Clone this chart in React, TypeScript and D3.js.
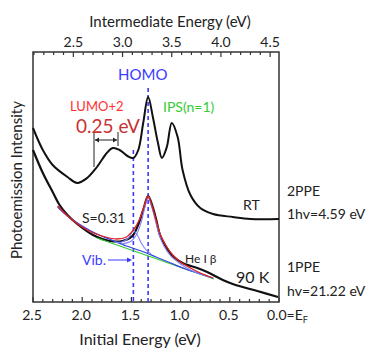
import React, { useEffect, useRef } from "react";
import * as d3 from "d3";

// photon energy of the 2PPE pump, links bottom and top axes
const PUMP = 4.59;

// 2PPE spectrum at RT: [initial energy (eV), intensity]
const ppe2RT: [number, number][] = [
  [2.5, 174], [2.4, 152], [2.3, 137], [2.15, 125], [2.05, 119], [1.95, 124],
  [1.85, 135], [1.75, 149], [1.69, 154], [1.62, 152], [1.54, 146], [1.48, 144],
  [1.43, 152], [1.38, 179], [1.33, 205], [1.28, 184], [1.23, 159], [1.19, 144],
  [1.14, 155], [1.09, 179], [1.03, 165], [0.98, 132], [0.9, 107], [0.8, 94],
  [0.67, 88], [0.47, 85], [0.29, 83], [0.0, 83],
];

// 1PPE spectrum at 90 K
const ppe1: [number, number][] = [
  [2.5, 152], [2.4, 129], [2.3, 110], [2.23, 97], [2.15, 87], [2.05, 78],
  [1.89, 67], [1.72, 61], [1.59, 61], [1.49, 66], [1.44, 75], [1.38, 92],
  [1.33, 106], [1.28, 94], [1.24, 79], [1.21, 67], [1.14, 54], [1.08, 46],
  [0.98, 39], [0.83, 34], [0.73, 30], [0.63, 25], [0.47, 18], [0.22, 11],
  [0.01, 5],
];

// fit components of the 1PPE spectrum
const fitTotal: [number, number][] = [
  [2.25, 96], [2.1, 82], [1.95, 72], [1.8, 66], [1.65, 63], [1.55, 65],
  [1.48, 72], [1.42, 82], [1.37, 96], [1.33, 106], [1.29, 96], [1.25, 82],
  [1.2, 66], [1.14, 55], [1.08, 47], [1.0, 40], [0.9, 34], [0.8, 29], [0.67, 24],
];
const fitBackground: [number, number][] = [
  [2.25, 95], [2.15, 86], [2.0, 76], [1.85, 68], [1.7, 62], [1.55, 56],
  [1.4, 51], [1.25, 45], [1.1, 39], [0.95, 33], [0.8, 28], [0.67, 24],
];
const fitHomo: [number, number][] = [
  [1.6, 58], [1.5, 61], [1.45, 67], [1.4, 80], [1.36, 96], [1.33, 104],
  [1.3, 97], [1.26, 83], [1.22, 68], [1.17, 56], [1.1, 46], [1.0, 38],
  [0.9, 32], [0.8, 28], [0.67, 24],
];
const fitVib: [number, number][] = [
  [1.68, 60], [1.6, 60], [1.53, 64], [1.48, 71], [1.44, 67], [1.4, 59],
  [1.35, 52], [1.3, 48],
];
const linearBackground: [number, number][] = [[1.85, 64], [0.66, 23]];

// marker lines (initial energy, top of dashed line in intensity units)
const dashedLines: [number, number][] = [[1.48, 152], [1.33, 214]];

const bottomTicks = [2.5, 2.0, 1.5, 1.0, 0.5];
const topTicks = [2.5, 3.0, 3.5, 4.0, 4.5];

const FONT = "Lato, 'Open Sans', sans-serif";

export default function App() {
  const svgRef = useRef<SVGSVGElement>(null);
  const width = 373;
  const height = 349;
  const plot = { left: 33, right: 279, top: 52, bottom: 302 };

  useEffect(() => {
    const svg = d3.select(svgRef.current);
    svg.selectAll("*").remove();

    const x = d3.scaleLinear().domain([2.5, 0]).range([plot.left, plot.right]);
    const xTop = d3
      .scaleLinear()
      .domain([PUMP - 2.5, PUMP])
      .range([plot.left, plot.right]);
    const y = d3.scaleLinear().domain([0, 250]).range([plot.bottom, plot.top]);

    const line = d3
      .line<[number, number]>()
      .x((d) => x(d[0]))
      .y((d) => y(d[1]))
      .curve(d3.curveCatmullRom.alpha(0.5));

    // ticks, inward
    const minorBottom = d3.range(0, 26).map((i) => i / 10);
    minorBottom.forEach((v) => {
      const major = Math.abs(v * 2 - Math.round(v * 2)) < 1e-6;
      svg
        .append("line")
        .attr("x1", x(v))
        .attr("x2", x(v))
        .attr("y1", plot.bottom)
        .attr("y2", plot.bottom - (major ? 5 : 3))
        .attr("stroke", "#333")
        .attr("stroke-width", 1.2);
    });
    const minorTop = d3.range(21, 46).map((i) => i / 10);
    minorTop.forEach((v) => {
      const major = Math.abs(v * 2 - Math.round(v * 2)) < 1e-6;
      svg
        .append("line")
        .attr("x1", xTop(v))
        .attr("x2", xTop(v))
        .attr("y1", plot.top)
        .attr("y2", plot.top + (major ? 5 : 3))
        .attr("stroke", "#333")
        .attr("stroke-width", 1.2);
    });

    // frame
    svg
      .append("rect")
      .attr("x", plot.left)
      .attr("y", plot.top)
      .attr("width", plot.right - plot.left)
      .attr("height", plot.bottom - plot.top)
      .attr("fill", "none")
      .attr("stroke", "#333")
      .attr("stroke-width", 1.5);

    // tick labels
    svg
      .selectAll("text.bt")
      .data(bottomTicks)
      .enter()
      .append("text")
      .attr("x", (d) => x(d) - 1)
      .attr("y", 320)
      .attr("text-anchor", "middle")
      .attr("font-size", 14)
      .attr("fill", "#222")
      .text((d) => d.toFixed(1));
    const ef = svg
      .append("text")
      .attr("x", x(0) - 12)
      .attr("y", 320)
      .attr("font-size", 14)
      .attr("fill", "#222");
    ef.append("tspan").text("0.0=E");
    ef.append("tspan").attr("font-size", 9).attr("dy", 3).text("F");

    svg
      .selectAll("text.tt")
      .data(topTicks)
      .enter()
      .append("text")
      .attr("x", (d) => xTop(d))
      .attr("y", 47)
      .attr("text-anchor", "middle")
      .attr("font-size", 14)
      .attr("fill", "#222")
      .text((d) => d.toFixed(1));

    // axis titles
    svg
      .append("text")
      .attr("x", 170)
      .attr("y", 27)
      .attr("text-anchor", "middle")
      .attr("font-size", 15)
      .attr("fill", "#222")
      .text("Intermediate Energy (eV)");
    svg
      .append("text")
      .attr("x", 140)
      .attr("y", 345)
      .attr("text-anchor", "middle")
      .attr("font-size", 16)
      .attr("fill", "#222")
      .text("Initial Energy (eV)");
    svg
      .append("text")
      .attr("transform", "rotate(-90)")
      .attr("x", -180)
      .attr("y", 22)
      .attr("text-anchor", "middle")
      .attr("font-size", 15)
      .attr("fill", "#222")
      .text("Photoemission Intensity");

    // dashed markers
    dashedLines.forEach(([e, top]) => {
      svg
        .append("line")
        .attr("x1", x(e))
        .attr("x2", x(e))
        .attr("y1", y(top))
        .attr("y2", plot.bottom)
        .attr("stroke", "#3a3aff")
        .attr("stroke-width", 1.6)
        .attr("stroke-dasharray", "4,3");
    });

    // spectra
    svg
      .append("path")
      .datum(ppe2RT)
      .attr("fill", "none")
      .attr("stroke", "#111")
      .attr("stroke-width", 2)
      .attr("d", line);
    svg
      .append("path")
      .datum(ppe1)
      .attr("fill", "none")
      .attr("stroke", "#111")
      .attr("stroke-width", 2.2)
      .attr("d", line);

    // fit components
    const comps: [[number, number][], string, number][] = [
      [linearBackground, "#33cc33", 1.3],
      [fitBackground, "#3344dd", 1.3],
      [fitVib, "#8080ff", 1.1],
      [fitHomo, "#8080ff", 1.1],
      [fitTotal, "#e02020", 1.3],
    ];
    comps.forEach(([d, c, w]) => {
      svg
        .append("path")
        .datum(d)
        .attr("fill", "none")
        .attr("stroke", c)
        .attr("stroke-width", w)
        .attr("d", line);
    });

    // 0.25 eV bracket
    const bx1 = 94;
    const bx2 = 118;
    svg.append("line").attr("x1", bx1).attr("x2", bx1).attr("y1", 132).attr("y2", 167)
      .attr("stroke", "#222").attr("stroke-width", 1);
    svg.append("line").attr("x1", bx2).attr("x2", bx2).attr("y1", 132).attr("y2", 146)
      .attr("stroke", "#222").attr("stroke-width", 1);
    svg.append("line").attr("x1", bx1 + 1).attr("x2", bx2 - 1).attr("y1", 140).attr("y2", 140)
      .attr("stroke", "#222").attr("stroke-width", 1);
    svg.append("path").attr("d", `M${bx1 + 1},140 l4,-2.5 v5 z`).attr("fill", "#222");
    svg.append("path").attr("d", `M${bx2 - 1},140 l-4,-2.5 v5 z`).attr("fill", "#222");

    // Vib. arrow
    svg.append("line").attr("x1", 108).attr("x2", 128).attr("y1", 260).attr("y2", 260)
      .attr("stroke", "#3a3aff").attr("stroke-width", 1);
    svg.append("path").attr("d", "M132,260 l-5,-2.5 v5 z").attr("fill", "#3a3aff");

    // labels
    const label = (t: string, lx: number, ly: number, size: number, color: string) =>
      svg
        .append("text")
        .attr("x", lx)
        .attr("y", ly)
        .attr("font-size", size)
        .attr("fill", color)
        .text(t);

    label("HOMO", 118, 80, 15, "#3a3aff");
    label("LUMO+2", 70, 111, 13, "#ff3030");
    label("0.25 eV", 76, 133, 19, "#c83232");
    label("IPS(n=1)", 163, 112, 14, "#33cc33");
    label("RT", 243, 210, 14, "#222");
    label("2PPE", 287, 196, 14, "#222");
    label("1hv=4.59 eV", 287, 219, 14, "#222");
    label("S=0.31", 82, 223, 14, "#222");
    label("Vib.", 82, 265, 14, "#3a3aff");
    label("He I β", 185, 263, 12, "#222");
    label("90 K", 236, 283, 16, "#222");
    label("1PPE", 287, 272, 14, "#222");
    label("hv=21.22 eV", 287, 296, 14, "#222");
  }, []);

  return (
    <svg
      ref={svgRef}
      width={width}
      height={height}
      style={{ position: "absolute", left: 0, top: 0, fontFamily: FONT, background: "#fff" }}
    />
  );
}
